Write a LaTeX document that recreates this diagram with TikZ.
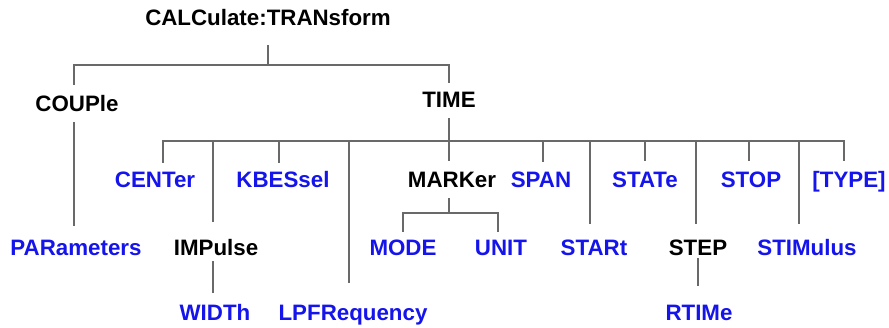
\documentclass[tikz,border=0pt]{standalone}
\usepackage{fontspec}
\setmainfont{Liberation Sans}
\usepackage{xcolor}
\usepackage{tikz}
\usetikzlibrary{positioning}

\definecolor{cmdblue}{RGB}{20,20,235}
\definecolor{linegray}{RGB}{105,105,105}

\begin{document}
\begin{tikzpicture}[
    cmd/.style={font=\fontsize{12.7}{15}\selectfont\bfseries, text height=9.1pt, text depth=2.7pt, inner sep=3pt, anchor=base},
    leaf/.style={cmd, text=cmdblue},
    link/.style={draw=linegray, line width=0.8pt}
  ]
    \useasboundingbox (0,0) rectangle (17.78,6.56);

    % Root and first level
    \node[cmd] (calc) at (5.36,6.04) {CALCulate:TRANsform};
    \node[cmd] (coup) at (1.54,4.32) {COUPle};
    \node[cmd] (time) at (8.98,4.40) {TIME};

    % Children of TIME, upper row
    \node[leaf] (cent) at (3.10,2.80) {CENTer};
    \node[leaf] (kbes) at (5.66,2.80) {KBESsel};
    \node[cmd]  (mark) at (9.04,2.80) {MARKer};
    \node[leaf] (span) at (10.82,2.80) {SPAN};
    \node[leaf] (stat) at (12.90,2.80) {STATe};
    \node[leaf] (stop) at (15.02,2.80) {STOP};
    \node[leaf] (type) at (16.98,2.80) {[TYPE]};

    % Lower row
    \node[leaf] (par)  at (1.52,1.44) {PARameters};
    \node[cmd]  (imp)  at (4.32,1.44) {IMPulse};
    \node[leaf] (mode) at (8.06,1.44) {MODE};
    \node[leaf] (unit) at (10.02,1.44) {UNIT};
    \node[leaf] (star) at (11.88,1.44) {STARt};
    \node[cmd]  (step) at (13.96,1.44) {STEP};
    \node[leaf] (stim) at (16.14,1.44) {STIMulus};

    % Bottom row
    \node[leaf] (wid)  at (4.30,0.14) {WIDTh};
    \node[leaf] (lpf)  at (7.06,0.14) {LPFRequency};
    \node[leaf] (rtim) at (13.98,0.14) {RTIMe};

    % Bar heights
    \coordinate (cbar) at (0,5.26);
    \coordinate (tbar) at (0,3.74);
    \coordinate (mbar) at (0,2.30);

    % Root branches
    \draw[link, shorten <=0.18cm, shorten >=0.1cm] (calc.south) -- (calc.south |- cbar) -| ([xshift=-0.06cm]coup.north);
    \draw[link, shorten <=0.18cm, shorten >=0.07cm] (calc.south) -- (calc.south |- cbar) -| (time.north);
    \draw[link, shorten >=0.17cm] ([xshift=-0.06cm]coup.south) -- ([xshift=-0.06cm]coup.south |- par.north);

    % TIME branches
    \foreach \n/\dx/\s in {cent/0.16cm/0.06cm, imp/-0.06cm/0.25cm, kbes/-0.08cm/0.06cm, lpf/-0.08cm/0.33cm,
                           mark/-0.06cm/0.1cm, span/0.04cm/0.08cm, stat/0cm/0.1cm, star/-0.08cm/0.2cm,
                           step/-0.04cm/0.2cm, stop/-0.04cm/0.1cm, stim/-0.16cm/0.2cm, type/-0.1cm/0.1cm}
      \draw[link, shorten >=\s] (time.south) -- (time.south |- tbar) -| ([xshift=\dx]\n.north);

    % MARKer branches
    \draw[link, shorten >=0.05cm] ([xshift=-0.06cm]mark.south) -- ([xshift=-0.06cm]mark.south |- mbar) -| (mode.north);
    \draw[link, shorten >=0.05cm] ([xshift=-0.06cm]mark.south) -- ([xshift=-0.06cm]mark.south |- mbar) -| ([xshift=-0.06cm]unit.north);

    % Single children
    \draw[link, shorten <=-0.1cm, shorten >=0.13cm] ([xshift=-0.06cm]imp.south) -- ([xshift=-0.06cm]imp.south |- wid.north);
    \draw[link, shorten <=-0.16cm, shorten >=0.27cm] (step.south) -- (step.south |- rtim.north);
\end{tikzpicture}
\end{document}
